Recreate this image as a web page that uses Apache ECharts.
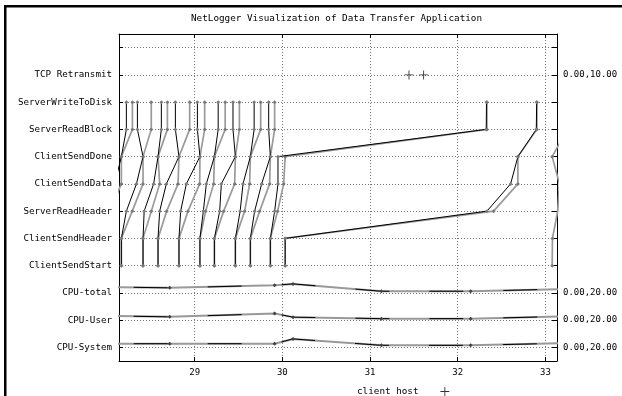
<!DOCTYPE html>
<html>
<head>
<meta charset="utf-8">
<script src="https://cdn.jsdelivr.net/npm/echarts@6/dist/echarts.min.js"></script>
<style>
  html, body { margin: 0; padding: 0; background: #fff; }
  #chart { width: 622px; height: 396px; }
</style>
</head>
<body>
<div id="chart"></div>
<script>
// rows, bottom to top
const rowLabels = ['CPU-System', 'CPU-User', 'CPU-total', 'ClientSendStart', 'ClientSendHeader',
  'ServerReadHeader', 'ClientSendData', 'ClientSendDone', 'ServerReadBlock', 'ServerWriteToDisk',
  'TCP Retransmit', ''];
const rangeLabels = ['0.00,20.00', '0.00,20.00', '0.00,20.00', '', '', '', '', '', '', '', '0.00,10.00', ''];

// lifeline event times (seconds), one entry per lifeline
const tClientSendStart = [27.883, 27.883, 28.164, 28.164, 28.411, 28.411, 28.582, 28.582, 28.821, 28.821,
  29.060, 29.060, 29.225, 29.225, 29.464, 29.464, 29.635, 29.635, 29.863, 29.863, 30.032, 30.032, 33.077];
const tClientSendHeader = [27.883, 27.883, 28.164, 28.164, 28.411, 28.411, 28.582, 28.582, 28.821, 28.821,
  29.060, 29.060, 29.225, 29.225, 29.464, 29.464, 29.635, 29.635, 29.863, 29.863, 30.032, 30.032, 33.080];
const tServerReadHeader = [27.962, 28.031, 28.221, 28.288, 28.424, 28.506, 28.601, 28.681, 28.840, 28.924,
  29.099, 29.125, 29.285, 29.331, 29.519, 29.570, 29.684, 29.741, 29.912, 29.946, 32.333, 32.409, 33.140];
const tClientSendData = [28.088, 28.164, 28.336, 28.411, 28.532, 28.601, 28.677, 28.810, 28.905, 29.057,
  29.133, 29.217, 29.304, 29.456, 29.551, 29.627, 29.764, 29.855, 29.950, 30.015, 32.603, 32.686, 33.160];
const tClientSendDone = [28.164, 28.164, 28.411, 28.411, 28.582, 28.582, 28.821, 28.821, 29.060, 29.060,
  29.225, 29.225, 29.464, 29.464, 29.635, 29.635, 29.863, 29.863, 29.950, 30.032, 32.686, 32.686, 33.077];
const tServerReadBlock = [28.221, 28.290, 28.347, 28.505, 28.620, 28.689, 28.780, 28.943, 29.031, 29.114,
  29.268, 29.348, 29.437, 29.510, 29.678, 29.753, 29.844, 29.912, 32.325, 32.333, 32.896, 32.903, 33.250];
const tServerWriteToDisk = [28.221, 28.290, 28.347, 28.505, 28.620, 28.689, 28.780, 28.943, 29.031, 29.114,
  29.268, 29.348, 29.437, 29.510, 29.678, 29.753, 29.844, 29.912, 32.328, 32.333, 32.900, 32.903, 33.260];

// TCP retransmits
const tcpRetransmit = [31.444, 31.611];

// CPU samples (0..20 scale)
const cpuTime = [27.461, 28.715, 29.912, 30.121, 31.129, 32.147, 33.504];
const cpuTotal = [4.8, 3.7, 5.6, 6.6, 1.2, 1.2, 3.3];
const cpuUser = [3.7, 2.4, 4.8, 2.2, 1.1, 1.1, 3.2];
const cpuSystem = [2.7, 2.7, 2.7, 6.2, 1.5, 1.5, 3.5];

const X_MIN = 28.137;
const X_MAX = 33.132;
const MONO = '"DejaVu Sans Mono", "Liberation Mono", monospace';
const PLUS = 'path://M0,4.5H10V5.5H0Z M4.5,0H5.5V10H4.5Z';

// row j sits at 2j+1 on the hidden value axis (0..24)
const rowY = (name) => 2 * rowLabels.indexOf(name) + 1;
const rowCats = Array.from({ length: 25 }, (_, i) => String(i));
const oddOnly = (i) => i % 2 === 1;

const lifelineRows = [
  [tClientSendStart, 'ClientSendStart'],
  [tClientSendHeader, 'ClientSendHeader'],
  [tServerReadHeader, 'ServerReadHeader'],
  [tClientSendData, 'ClientSendData'],
  [tClientSendDone, 'ClientSendDone'],
  [tServerReadBlock, 'ServerReadBlock'],
  [tServerWriteToDisk, 'ServerWriteToDisk'],
];

const series = [];

tClientSendStart.forEach((_, i) => {
  const grey = i % 2 === 1 || i === tClientSendStart.length - 1;
  series.push({
    type: 'line',
    xAxisIndex: 0,
    yAxisIndex: 2,
    z: grey ? 2 : 3,
    data: lifelineRows.map(([arr, name]) => [arr[i], rowY(name)]),
    symbol: 'diamond',
    symbolSize: 4,
    itemStyle: { color: '#7a7a7a' },
    lineStyle: { color: grey ? '#9a9a9a' : '#000', width: grey ? 1.7 : 1 },
    silent: true,
    animation: false,
  });
});

[[cpuTotal, 'CPU-total'], [cpuUser, 'CPU-User'], [cpuSystem, 'CPU-System']].forEach(([vals, name]) => {
  const base = rowY(name);
  const pts = cpuTime.map((t, k) => [t, base + (vals[k] / 20) * 2]);
  series.push({
    type: 'line', xAxisIndex: 0, yAxisIndex: 2, data: pts,
    symbol: 'none',
    lineStyle: { color: '#999', width: 2 },
    silent: true, animation: false,
  });
  series.push({
    type: 'line', xAxisIndex: 0, yAxisIndex: 2, data: pts,
    symbol: 'diamond', symbolSize: 4,
    itemStyle: { color: '#444' },
    lineStyle: { color: '#000', width: 1, type: [34, 40] },
    silent: true, animation: false,
  });
});

series.push({
  name: 'client host',
  type: 'scatter',
  xAxisIndex: 0,
  yAxisIndex: 2,
  data: tcpRetransmit.map((t) => [t, rowY('TCP Retransmit')]),
  symbol: PLUS,
  symbolSize: 9,
  itemStyle: { color: '#000' },
  silent: true,
  animation: false,
});

const chart = echarts.init(document.getElementById('chart'));
chart.setOption({
  animation: false,
  title: {
    text: 'NetLogger Visualization of Data Transfer Application',
    left: 191,
    top: 14,
    padding: 0,
    textStyle: { fontFamily: MONO, fontSize: 9.3, fontWeight: 'normal', color: '#000' },
  },
  legend: {
    data: [{ name: 'client host', icon: PLUS }],
    left: 357,
    top: 387,
    padding: 0,
    align: 'right',
    itemWidth: 9,
    itemHeight: 9,
    selectedMode: false,
    formatter: (name) => name + '   ',
    textStyle: { fontFamily: MONO, fontSize: 9.3, color: '#000' },
  },
  graphic: [
    { type: 'rect', shape: { x: 4, y: 5, width: 618, height: 2.5 }, style: { fill: '#000' }, silent: true },
    { type: 'rect', shape: { x: 4, y: 5, width: 2.5, height: 391 }, style: { fill: '#000' }, silent: true },
  ],
  grid: { left: 119, right: 65, top: 34, bottom: 35 },
  xAxis: [
    {
      type: 'value',
      min: X_MIN,
      max: X_MAX,
      minInterval: 1,
      maxInterval: 1,
      axisLine: { lineStyle: { color: '#000', width: 1 } },
      axisTick: { inside: true, length: 4, lineStyle: { color: '#000' } },
      axisLabel: {
        showMinLabel: false, showMaxLabel: false, margin: 7,
        fontFamily: MONO, fontSize: 9, color: '#000',
      },
      splitLine: { show: true, showMinLine: false, showMaxLine: false, lineStyle: { color: '#777', type: [1, 2] } },
    },
    {
      type: 'value',
      position: 'top',
      min: X_MIN,
      max: X_MAX,
      minInterval: 1,
      maxInterval: 1,
      axisLine: { lineStyle: { color: '#000', width: 1 } },
      axisTick: { inside: true, length: 4, lineStyle: { color: '#000' } },
      axisLabel: { show: false },
      splitLine: { show: false },
    },
  ],
  yAxis: [
    {
      type: 'category',
      data: rowCats,
      boundaryGap: false,
      position: 'left',
      axisLine: { lineStyle: { color: '#000', width: 1 } },
      axisTick: { inside: true, length: 4, interval: oddOnly, lineStyle: { color: '#000' } },
      axisLabel: {
        interval: oddOnly, margin: 7,
        formatter: (v) => rowLabels[(+v - 1) / 2] || '',
        fontFamily: MONO, fontSize: 9.2, color: '#000',
      },
      splitLine: { show: true, interval: oddOnly, lineStyle: { color: '#777', type: [1, 2] } },
    },
    {
      type: 'category',
      data: rowCats,
      boundaryGap: false,
      position: 'right',
      axisLine: { lineStyle: { color: '#000', width: 1 } },
      axisTick: { inside: true, length: 5, interval: oddOnly, lineStyle: { color: '#000' } },
      axisLabel: {
        interval: oddOnly, margin: 6,
        formatter: (v) => rangeLabels[(+v - 1) / 2] || '',
        fontFamily: MONO, fontSize: 9, color: '#000',
      },
      splitLine: { show: false },
    },
    { type: 'value', min: 0, max: 24, show: false },
  ],
  series,
});
</script>
</body>
</html>
